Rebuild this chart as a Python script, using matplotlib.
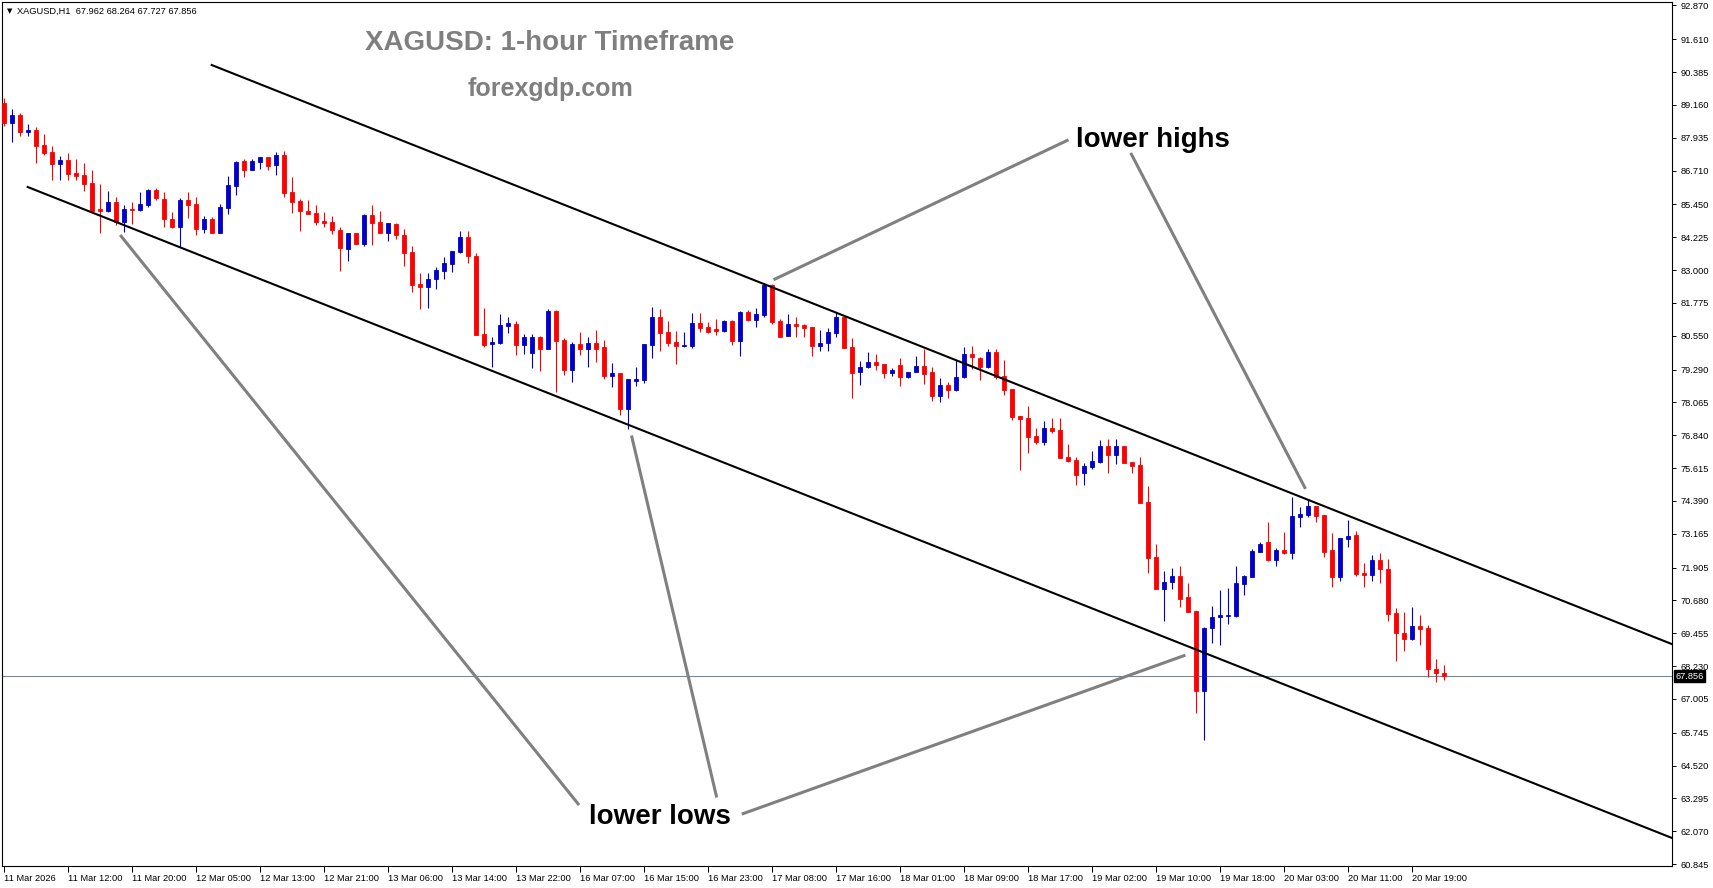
import matplotlib
matplotlib.use('Agg')
import matplotlib.pyplot as plt
from matplotlib.transforms import blended_transform_factory

# --------------------------- CHART DATA ---------------------------

symbol_header = 'XAGUSD,H1  67.962 68.264 67.727 67.856'
last_price = 67.856

opens = [89.23, 88.50, 88.79, 88.16, 88.23, 87.67, 87.42, 86.96, 87.11, 86.62,
         86.55, 86.25, 85.28, 85.20, 85.53, 84.78, 85.28, 85.24, 85.43, 85.99,
         85.66, 84.90, 84.60, 85.62, 85.47, 84.52, 84.90, 84.40, 85.31, 86.14,
         87.07, 86.73, 87.04, 87.21, 86.92, 87.29, 85.91, 85.58, 85.20, 85.12,
         84.83, 84.79, 84.50, 83.78, 84.37, 83.97, 85.06, 84.79, 84.40, 84.72,
         84.31, 83.68, 82.48, 82.38, 82.66, 82.98, 83.24, 83.68, 84.25, 83.54,
         80.62, 80.23, 80.27, 80.93, 80.99, 80.21, 79.92, 80.52, 80.07, 81.48,
         80.39, 79.27, 80.24, 80.07, 80.27, 80.12, 79.06, 79.15, 77.82, 78.88,
         78.90, 80.21, 81.26, 80.70, 80.32, 80.17, 80.17, 81.04, 80.89, 80.80,
         80.73, 81.10, 80.37, 81.45, 81.14, 81.33, 82.45, 81.10, 80.54, 80.98,
         80.95, 80.87, 80.17, 80.29, 80.67, 81.24, 80.12, 79.21, 79.37, 79.57,
         79.50, 79.15, 79.46, 79.00, 79.20, 79.42, 79.21, 78.30, 78.71, 78.53,
         79.00, 79.87, 79.72, 79.37, 79.93, 79.05, 78.57, 77.55, 77.47, 76.81,
         76.60, 77.10, 77.04, 76.02, 75.92, 75.42, 75.67, 75.85, 76.44, 76.10,
         76.44, 75.83, 75.73, 74.35, 72.30, 71.12, 71.35, 71.59, 70.82, 70.28,
         67.31, 69.64, 70.05, 70.10, 70.10, 71.29, 71.56, 72.50, 72.87, 72.19,
         72.56, 72.46, 73.80, 73.87, 74.20, 73.87, 72.56, 71.56, 72.98, 73.12,
         71.69, 71.64, 72.19, 71.86, 70.20, 69.45, 69.25, 69.73, 69.64, 68.11,
         67.962]

highs = [89.42, 89.01, 88.85, 88.45, 88.33, 88.08, 87.63, 87.26, 87.36, 87.13,
         86.98, 86.73, 86.21, 85.95, 85.72, 85.43, 85.55, 85.90, 86.03, 86.05,
         85.93, 85.18, 85.68, 85.90, 85.72, 85.02, 84.97, 85.47, 86.51, 87.08,
         87.14, 87.13, 87.23, 87.22, 87.41, 87.44, 86.46, 85.64, 85.62, 85.43,
         85.18, 85.02, 84.62, 84.40, 84.38, 85.09, 85.43, 85.21, 84.76, 84.76,
         84.52, 83.90, 82.90, 82.88, 83.13, 83.50, 83.72, 84.46, 84.46, 83.63,
         81.58, 80.52, 81.36, 81.24, 81.10, 80.62, 80.62, 80.54, 81.55, 81.51,
         80.46, 80.33, 80.70, 80.49, 80.77, 80.39, 79.52, 79.16, 78.94, 79.40,
         80.25, 81.64, 81.54, 81.10, 80.74, 80.70, 81.39, 81.41, 81.06, 81.17,
         81.14, 81.14, 81.49, 81.51, 81.58, 82.51, 82.48, 81.17, 81.36, 81.26,
         80.99, 80.89, 80.77, 80.83, 81.39, 81.33, 80.46, 79.62, 79.96, 79.87,
         79.51, 79.34, 79.71, 79.21, 79.80, 80.05, 79.40, 78.96, 78.82, 79.65,
         80.12, 80.17, 79.77, 80.05, 80.05, 79.65, 78.58, 77.56, 77.93, 77.12,
         77.37, 77.47, 77.47, 76.51, 76.02, 75.79, 76.25, 76.66, 76.70, 76.70,
         76.45, 75.84, 76.04, 74.95, 72.78, 71.79, 71.88, 71.96, 71.32, 70.29,
         69.70, 70.47, 71.07, 71.13, 71.96, 71.63, 72.59, 72.87, 73.62, 72.62,
         73.24, 74.55, 74.15, 74.45, 74.21, 73.88, 73.18, 73.01, 73.68, 73.28,
         72.06, 72.37, 72.44, 72.21, 70.39, 70.26, 70.42, 70.14, 69.76, 68.48,
         68.264]

lows = [88.38, 87.79, 88.00, 88.00, 87.01, 87.29, 86.36, 86.36, 86.36, 86.36,
        85.96, 85.20, 84.40, 85.17, 84.68, 84.43, 84.72, 85.22, 85.37, 85.62,
        84.60, 84.56, 83.87, 84.93, 84.31, 84.40, 84.38, 84.38, 85.09, 85.80,
        86.48, 86.72, 86.77, 86.73, 86.55, 85.72, 85.14, 84.47, 85.08, 84.68,
        84.62, 84.35, 82.98, 83.35, 83.96, 83.90, 83.94, 84.37, 84.10, 84.16,
        83.16, 82.20, 81.56, 81.60, 82.31, 82.68, 82.94, 83.63, 83.28, 80.58,
        80.13, 79.40, 80.24, 80.67, 79.83, 79.87, 79.36, 79.25, 80.06, 78.46,
        79.09, 78.84, 79.83, 79.40, 79.58, 78.93, 78.65, 77.60, 77.06, 78.69,
        78.80, 79.73, 79.99, 80.17, 79.49, 80.12, 80.08, 80.70, 80.67, 80.58,
        80.70, 80.21, 79.80, 81.10, 80.89, 81.26, 80.98, 80.49, 80.53, 80.52,
        80.52, 79.80, 79.99, 79.99, 80.52, 80.08, 78.22, 78.71, 79.36, 79.27,
        78.96, 79.05, 78.69, 78.99, 79.19, 78.75, 78.13, 78.09, 78.22, 78.50,
        78.99, 79.30, 78.90, 79.36, 78.93, 78.34, 77.41, 75.54, 76.19, 76.51,
        76.48, 76.91, 75.98, 75.85, 74.99, 74.99, 75.58, 75.82, 75.44, 75.77,
        75.81, 75.44, 74.31, 71.69, 71.09, 69.92, 71.09, 70.42, 70.25, 66.47,
        65.47, 69.10, 69.02, 69.80, 70.07, 70.88, 71.55, 72.49, 72.16, 71.96,
        72.41, 72.24, 73.43, 73.78, 73.62, 72.31, 71.19, 71.41, 72.66, 71.59,
        71.19, 71.41, 71.34, 69.92, 68.43, 68.80, 69.20, 69.01, 67.81, 67.65,
        67.727]

closes = [88.49, 88.79, 88.16, 88.23, 87.64, 87.38, 86.96, 87.11, 86.59, 86.51,
          86.21, 85.22, 85.22, 85.53, 84.78, 85.28, 85.26, 85.46, 86.00, 85.70,
          84.92, 84.60, 85.62, 85.43, 84.52, 84.90, 84.40, 85.34, 86.18, 87.04,
          86.73, 87.07, 87.21, 86.89, 87.29, 85.89, 85.55, 85.22, 85.09, 84.81,
          84.77, 84.50, 83.84, 84.37, 83.97, 85.06, 84.77, 84.40, 84.75, 84.31,
          83.65, 82.46, 82.38, 82.66, 83.00, 83.27, 83.71, 84.25, 83.54, 80.59,
          80.21, 80.33, 80.95, 81.02, 80.21, 80.52, 80.52, 80.07, 81.48, 80.37,
          79.27, 80.24, 80.07, 80.27, 80.07, 79.06, 79.15, 77.82, 78.94, 78.94,
          80.24, 81.26, 80.67, 80.29, 80.18, 80.21, 81.04, 80.85, 80.70, 80.74,
          81.10, 80.37, 81.45, 81.14, 81.36, 82.45, 81.05, 80.52, 80.99, 80.93,
          80.85, 80.17, 80.27, 80.70, 81.24, 80.11, 79.17, 79.37, 79.57, 79.46,
          79.15, 79.27, 79.00, 79.20, 79.42, 79.13, 78.30, 78.71, 78.53, 79.00,
          79.87, 79.75, 79.38, 79.93, 79.02, 78.53, 77.53, 77.46, 76.79, 76.60,
          77.10, 77.01, 76.00, 75.89, 75.36, 75.69, 75.88, 76.44, 76.10, 76.44,
          75.82, 75.70, 74.32, 72.27, 71.12, 71.37, 71.59, 70.74, 70.26, 67.31,
          69.65, 70.05, 70.14, 70.14, 71.32, 71.59, 72.53, 72.78, 72.19, 72.56,
          72.46, 73.83, 73.90, 74.20, 73.83, 72.50, 71.56, 73.00, 73.08, 71.67,
          71.64, 72.19, 71.84, 70.17, 69.48, 69.25, 69.73, 69.62, 68.11, 67.96,
          67.856]

# Time axis labels, one every 8 bars.
time_tick_bars = [0, 8, 16, 24, 32, 40, 48, 56, 64, 72, 80, 88, 96, 104,
                  112, 120, 128, 136, 144, 152, 160, 168, 176]
time_tick_labels = ['11 Mar 2026', '11 Mar 12:00', '11 Mar 20:00', '12 Mar 05:00',
                    '12 Mar 13:00', '12 Mar 21:00', '13 Mar 06:00', '13 Mar 14:00',
                    '13 Mar 22:00', '16 Mar 07:00', '16 Mar 15:00', '16 Mar 23:00',
                    '17 Mar 08:00', '17 Mar 16:00', '18 Mar 01:00', '18 Mar 09:00',
                    '18 Mar 17:00', '19 Mar 02:00', '19 Mar 10:00', '19 Mar 18:00',
                    '20 Mar 03:00', '20 Mar 11:00', '20 Mar 19:00']

# Price axis labels.
price_ticks = [92.870, 91.610, 90.385, 89.160, 87.935, 86.710, 85.450, 84.225,
               83.000, 81.775, 80.550, 79.290, 78.065, 76.840, 75.615, 74.390,
               73.165, 71.905, 70.680, 69.455, 68.230, 67.005, 65.745, 64.520,
               63.295, 62.070, 60.845]

# Channel lines (bar index, price).
upper_channel_bars = [25.96, 208.5]
upper_channel_prices = [90.65, 69.05]
lower_channel_bars = [2.96, 208.5]
lower_channel_prices = [86.10, 61.82]

# Pointer lines (bar index, price).
pointer_bars = [[133.06, 96.19], [140.84, 162.69], [71.88, 14.52], [89.09, 78.44], [92.22, 147.68]]
pointer_prices = [[87.86, 82.64], [87.37, 74.84], [63.05, 84.31], [63.33, 76.83], [62.71, 68.64]]

# --------------------------- PLOT ---------------------------

plt.rcParams['font.family'] = ['Liberation Sans', 'DejaVu Sans']

fig = plt.figure(figsize=(17.13, 8.88), dpi=100)
ax = fig.add_axes([2 / 1713, 22 / 888, 1670 / 1713, 864 / 888])
ax.set_xlim(-0.25, 208.5)
ax.set_ylim(60.775, 93.0)

# Candles.
for i in range(len(opens)):
    o, h, l, c = opens[i], highs[i], lows[i], closes[i]
    col = '#0000CC' if c >= o else '#FF0000'
    ax.vlines(i, l, h, color=col, lw=0.8, zorder=3)
    ax.bar(i, abs(c - o), bottom=min(o, c), width=0.55, color=col,
           edgecolor=col, linewidth=0.6, zorder=4)

# Current price line.
ax.axhline(last_price, color='#778899', lw=0.8, zorder=2)

# Channel.
ax.plot(upper_channel_bars, upper_channel_prices, color='black', lw=1.5, zorder=5)
ax.plot(lower_channel_bars, lower_channel_prices, color='black', lw=1.5, zorder=5)

# Pointers.
for bx, py in zip(pointer_bars, pointer_prices):
    ax.plot(bx, py, color='#808080', lw=2.2, zorder=6, solid_capstyle='butt')

# Texts.
ax.text(68.25, 91.46, 'XAGUSD: 1-hour Timeframe', color='#7f7f7f', fontsize=20,
        fontweight='bold', ha='center', va='center')
ax.text(68.25, 89.75, 'forexgdp.com', color='#7f7f7f', fontsize=18,
        fontweight='bold', ha='center', va='center')
ax.text(143.6, 87.85, 'lower highs', color='black', fontsize=20,
        fontweight='bold', ha='center', va='center', zorder=7)
ax.text(81.94, 62.59, 'lower lows', color='black', fontsize=20,
        fontweight='bold', ha='center', va='center', zorder=7)

# Header.
fig.text(7 / 1713, 1 - 11 / 888, '\u25BC', fontsize=5, va='center', ha='left',
         family='DejaVu Sans')
fig.text(17 / 1713, 1 - 11 / 888, symbol_header, fontsize=6.7, va='center', ha='left')

# Axes styling.
ax.yaxis.tick_right()
ax.set_yticks(price_ticks)
ax.set_yticklabels(['%.3f' % v for v in price_ticks])
ax.set_xticks(time_tick_bars)
ax.set_xticklabels(time_tick_labels)
for lab in ax.get_xticklabels():
    lab.set_horizontalalignment('left')
ax.tick_params(axis='y', direction='out', length=3, width=0.7, pad=3, labelsize=6.7)
ax.tick_params(axis='x', direction='out', length=4, width=0.7, pad=2, labelsize=6.7)
for sp in ax.spines.values():
    sp.set_color('black')
    sp.set_linewidth(0.8)

# Price box on the axis.
trans = blended_transform_factory(ax.transAxes, ax.transData)
ax.text(1.002, last_price, '%.3f' % last_price, transform=trans, color='white',
        fontsize=6.7, va='center', ha='left', clip_on=False, zorder=10,
        bbox=dict(facecolor='black', edgecolor='black', pad=1.2))

fig.savefig('out.png', dpi=100)
